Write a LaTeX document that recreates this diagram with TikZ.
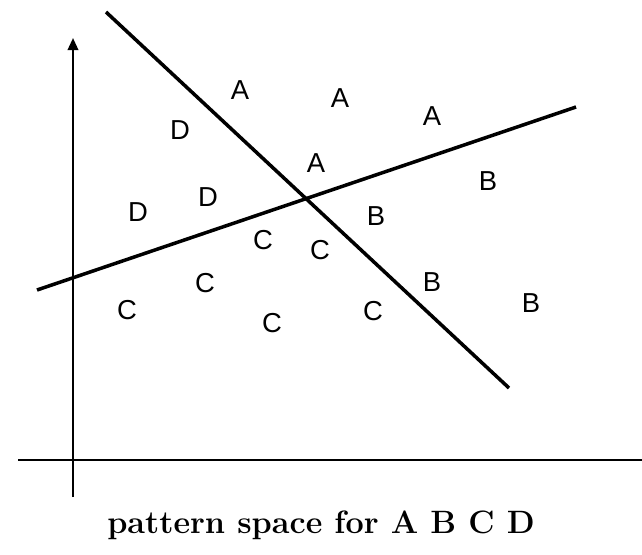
\documentclass[tikz,border=0pt]{standalone}
\usepackage{fontspec}
\newfontfamily\labfont{Liberation Sans}
\usetikzlibrary{arrows.meta}
\definecolor{ink}{HTML}{000000}
\tikzset{
  psaxis/.style  = {draw=ink, line width=1.6pt},
  psline/.style  = {draw=ink, line width=2.5pt},
  pscls/.style   = {font=\labfont\fontsize{19.5}{19.5}\selectfont, text=ink, inner sep=0pt},
  pscap/.style   = {font=\bfseries\fontsize{23}{24}\selectfont, text=ink, inner sep=0pt},
}
\begin{document}
\begin{tikzpicture}[x=0.025cm, y=-0.025cm]
\useasboundingbox (0,0) rectangle (642,554);

% axes
\coordinate (yb) at (73,497);
\coordinate (yt) at (73,38);
\coordinate (xl) at (18,460);
\coordinate (xr) at (642,460);
\draw[psaxis, -{Triangle[length=3mm,width=2.6mm]}] (yb) -- (yt);
\draw[psaxis] (xl) -- (xr);

% the two separating lines
\coordinate (p1) at (106,12);
\coordinate (p2) at (509,388);
\coordinate (q1) at (37,290);
\coordinate (q2) at (576,107);
\draw[psline] (p1) -- (p2);
\draw[psline] (q1) -- (q2);

% class A
\node[pscls] (a1) at (240,90)  {A};
\node[pscls] (a2) at (340,98)  {A};
\node[pscls] (a3) at (432,116) {A};
\node[pscls] (a4) at (316,163) {A};
% class B
\node[pscls] (b1) at (488,181) {B};
\node[pscls] (b2) at (376,216) {B};
\node[pscls] (b3) at (432,282) {B};
\node[pscls] (b4) at (531,303) {B};
% class C
\node[pscls] (c1) at (263,240) {C};
\node[pscls] (c2) at (320,250) {C};
\node[pscls] (c3) at (205,283) {C};
\node[pscls] (c4) at (127,310) {C};
\node[pscls] (c5) at (272,323) {C};
\node[pscls] (c6) at (373,311) {C};
% class D
\node[pscls] (d1) at (180,130) {D};
\node[pscls] (d2) at (138,212) {D};
\node[pscls] (d3) at (208,197) {D};

\node[pscap] (cap) at (321,525) {pattern space for A B C D};
\end{tikzpicture}
\end{document}
